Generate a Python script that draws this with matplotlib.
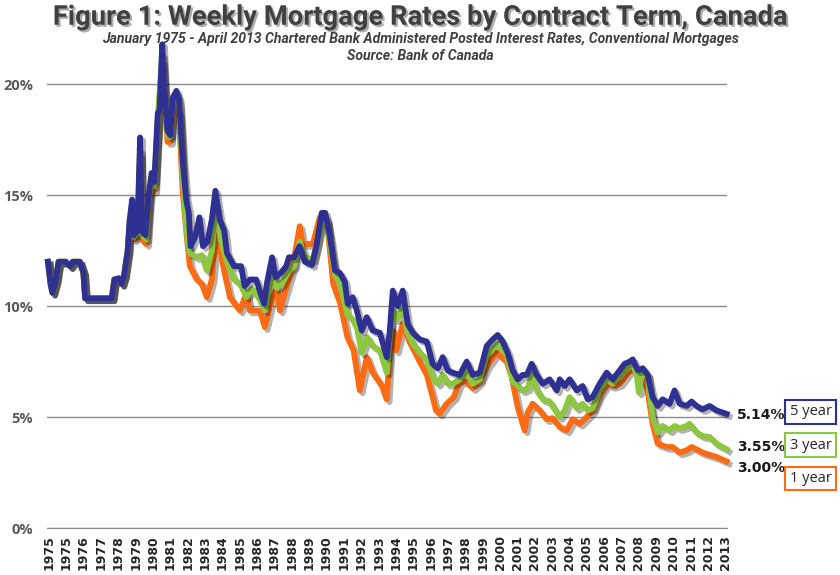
import matplotlib
matplotlib.use('Agg')
import matplotlib.pyplot as plt
import matplotlib.patheffects as pe
import numpy as np

# common part (all terms nearly identical 1975 - mid 1979)
early_dates = [1975.00, 1975.15, 1975.25, 1975.45, 1975.60, 1976.00, 1976.25, 1976.40,
               1976.80, 1977.00, 1977.10, 1978.00, 1978.60, 1978.75, 1979.00, 1979.15,
               1979.30, 1979.50]
early_rates = [12.0, 11.0, 10.6, 11.2, 12.0, 12.0, 11.8, 12.0,
               12.0, 11.5, 10.35, 10.35, 10.35, 11.2, 11.25, 11.0,
               11.4, 12.5]

# 5 year term
dates_5y = [1979.60, 1979.75, 1979.85, 1980.05, 1980.20, 1980.30, 1980.50, 1980.70,
            1980.85, 1981.00, 1981.20, 1981.30, 1981.45, 1981.55, 1981.75, 1981.90,
            1982.05, 1982.25, 1982.40, 1982.60, 1982.80, 1982.95, 1983.05, 1983.30,
            1983.55, 1983.75, 1984.00, 1984.25, 1984.45, 1984.70, 1984.95, 1985.10,
            1985.50, 1985.90, 1986.10, 1986.40, 1986.75, 1986.95, 1987.20, 1987.35,
            1987.65, 1987.85, 1988.15, 1988.45, 1988.60, 1988.90, 1989.20, 1989.50,
            1989.90, 1990.15, 1990.45, 1990.65, 1990.90, 1991.20, 1991.47, 1991.75,
            1991.92, 1992.20, 1992.43, 1992.71, 1992.99, 1993.33, 1993.73, 1994.12,
            1994.29, 1994.46, 1994.74, 1995.02, 1995.30, 1995.59, 1995.98, 1996.38,
            1996.71, 1997.00, 1997.28, 1997.56, 1997.84, 1998.24, 1998.63, 1998.97,
            1999.37, 1999.76, 2000.10, 2000.38, 2000.66, 2000.94, 2001.23, 2001.51,
            2001.79, 2002.02, 2002.30, 2002.58, 2002.92, 2003.31, 2003.71, 2003.88,
            2004.16, 2004.44, 2004.84, 2005.17, 2005.46, 2005.74, 2006.13, 2006.53,
            2006.87, 2007.26, 2007.54, 2007.83, 2008.00, 2008.29, 2008.57, 2008.84,
            2009.12, 2009.41, 2009.69, 2010.08, 2010.36, 2010.65, 2011.04, 2011.32,
            2011.60, 2011.94, 2012.34, 2012.73, 2013.30]
rates_5y = [13.8, 14.8, 13.2, 13.4, 17.6, 13.4, 13.2, 15.1,
            16.0, 15.6, 18.7, 18.8, 21.8, 20.0, 17.9, 17.7,
            19.4, 19.7, 19.3, 16.6, 14.8, 14.2, 12.7, 13.1,
            14.0, 12.7, 12.9, 13.9, 15.2, 13.9, 13.4, 12.4,
            11.8, 11.8, 10.9, 11.2, 11.2, 10.7, 10.1, 11.0,
            12.2, 11.3, 11.5, 11.8, 12.2, 12.2, 12.7, 12.0,
            11.85, 12.7, 14.2, 14.2, 13.2, 11.6, 11.5, 11.1,
            10.1, 10.4, 9.8, 8.9, 9.5, 8.9, 8.8, 7.7,
            8.9, 10.7, 10.0, 10.7, 9.2, 8.8, 8.5, 8.4,
            7.4, 7.2, 7.7, 7.1, 7.0, 6.9, 7.5, 6.9,
            7.0, 8.2, 8.5, 8.7, 8.4, 7.9, 7.1, 6.7,
            6.9, 6.9, 7.4, 6.9, 6.5, 6.7, 6.2, 6.7,
            6.4, 6.7, 6.2, 6.4, 5.8, 5.9, 6.5, 7.0,
            6.7, 7.1, 7.4, 7.5, 7.6, 7.1, 7.2, 6.9,
            5.9, 5.5, 5.8, 5.6, 6.2, 5.6, 5.5, 5.7,
            5.5, 5.35, 5.5, 5.3, 5.14]

# 3 year term
dates_3y = [1979.60, 1979.75, 1979.85, 1980.05, 1980.20, 1980.30, 1980.55, 1980.70,
            1980.85, 1981.00, 1981.20, 1981.45, 1981.55, 1981.75, 1981.90, 1982.05,
            1982.25, 1982.40, 1982.60, 1982.80, 1983.00, 1983.40, 1983.69, 1983.97,
            1984.25, 1984.45, 1984.75, 1985.10, 1985.50, 1985.85, 1986.20, 1986.50,
            1986.95, 1987.24, 1987.50, 1987.70, 1987.90, 1988.20, 1988.60, 1988.90,
            1989.21, 1989.50, 1989.95, 1990.34, 1990.55, 1990.74, 1990.95, 1991.20,
            1991.50, 1991.90, 1992.20, 1992.45, 1992.70, 1993.00, 1993.33, 1993.73,
            1994.12, 1994.30, 1994.48, 1994.65, 1995.02, 1995.30, 1995.60, 1995.98,
            1996.38, 1996.71, 1997.00, 1997.28, 1997.56, 1997.84, 1998.24, 1998.63,
            1998.97, 1999.37, 1999.76, 2000.38, 2000.89, 2001.23, 2001.51, 2001.79,
            2002.07, 2002.30, 2002.58, 2002.92, 2003.31, 2003.71, 2003.88, 2004.16,
            2004.44, 2004.84, 2005.17, 2005.46, 2005.74, 2006.13, 2006.53, 2006.87,
            2007.26, 2007.54, 2007.83, 2008.00, 2008.22, 2008.35, 2008.50, 2008.84,
            2009.12, 2009.41, 2009.69, 2010.08, 2010.36, 2010.65, 2011.04, 2011.20,
            2011.60, 2011.94, 2012.34, 2012.73, 2013.30]
rates_3y = [13.6, 14.5, 13.1, 13.3, 17.0, 13.2, 13.0, 14.9,
            15.8, 15.4, 18.5, 21.3, 19.8, 17.7, 17.6, 19.2,
            19.6, 19.1, 16.0, 13.6, 12.4, 12.2, 12.3, 11.6,
            12.5, 14.6, 13.0, 12.0, 11.2, 11.0, 10.4, 10.8,
            10.3, 9.8, 10.8, 11.6, 10.8, 11.0, 11.6, 11.8,
            12.9, 12.2, 12.1, 13.4, 14.1, 13.9, 12.6, 11.4,
            11.0, 9.6, 9.4, 9.0, 7.9, 8.6, 8.2, 8.0,
            7.0, 8.7, 9.8, 9.4, 9.9, 8.8, 8.3, 7.9,
            7.6, 6.8, 6.5, 6.9, 6.5, 6.5, 6.7, 7.0,
            6.5, 6.7, 7.8, 8.3, 7.8, 6.6, 6.4, 6.2,
            6.3, 6.9, 6.2, 5.8, 5.7, 5.2, 5.0, 5.3,
            5.9, 5.4, 5.6, 5.3, 5.4, 6.2, 6.7, 6.5,
            6.8, 7.1, 7.3, 7.4, 6.9, 6.1, 6.9, 6.9,
            5.0, 4.3, 4.6, 4.4, 4.6, 4.5, 4.6, 4.7,
            4.3, 4.15, 4.1, 3.8, 3.55]

# 1 year term
dates_1y = [1979.60, 1979.75, 1979.85, 1980.05, 1980.20, 1980.30, 1980.55, 1980.70,
            1980.85, 1981.00, 1981.20, 1981.45, 1981.55, 1981.75, 1981.90, 1982.05,
            1982.25, 1982.40, 1982.60, 1982.84, 1983.01, 1983.40, 1983.69, 1983.97,
            1984.25, 1984.53, 1984.81, 1985.27, 1985.83, 1986.22, 1986.39, 1986.96,
            1987.24, 1987.52, 1987.92, 1988.09, 1988.37, 1988.82, 1989.21, 1989.38,
            1989.95, 1990.34, 1990.74, 1990.95, 1991.10, 1991.50, 1991.90, 1992.25,
            1992.60, 1992.99, 1993.33, 1993.85, 1994.12, 1994.30, 1994.48, 1994.65,
            1995.02, 1995.40, 1995.98, 1996.38, 1996.71, 1996.90, 1997.10, 1997.50,
            1997.90, 1998.24, 1998.60, 1998.97, 1999.37, 1999.76, 2000.32, 2000.89,
            2001.17, 2001.51, 2001.90, 2002.07, 2002.35, 2002.75, 2003.14, 2003.48,
            2003.88, 2004.27, 2004.61, 2005.01, 2005.40, 2005.74, 2006.13, 2006.53,
            2006.87, 2007.26, 2007.83, 2008.22, 2008.57, 2008.84, 2009.12, 2009.41,
            2009.92, 2010.25, 2010.65, 2011.04, 2011.32, 2011.60, 2011.94, 2012.34,
            2012.73, 2013.30]
rates_1y = [13.5, 14.3, 13.0, 13.2, 16.8, 13.0, 12.8, 14.6,
            15.6, 15.2, 18.3, 21.0, 19.5, 17.4, 17.4, 18.9,
            19.1, 18.6, 15.2, 13.1, 11.8, 11.2, 11.0, 10.4,
            11.2, 13.9, 12.1, 10.4, 9.8, 10.6, 9.8, 9.8,
            9.05, 10.0, 10.9, 9.8, 10.6, 11.8, 13.6, 12.8,
            12.8, 14.0, 13.8, 12.2, 11.0, 10.1, 8.6, 8.0,
            6.2, 7.7, 7.0, 6.4, 5.8, 8.2, 8.9, 8.0,
            9.2, 8.4, 7.5, 6.9, 5.9, 5.3, 5.15, 5.6,
            5.9, 6.6, 6.6, 6.3, 6.6, 7.3, 7.9, 7.5,
            6.8, 5.45, 4.4, 5.2, 5.6, 5.3, 4.9, 4.95,
            4.55, 4.4, 4.9, 4.7, 5.0, 5.3, 6.0, 6.5,
            6.4, 6.5, 7.1, 7.0, 6.8, 6.2, 4.7, 3.8,
            3.65, 3.65, 3.4, 3.5, 3.65, 3.55, 3.4, 3.3,
            3.2, 3.0]

tick_labels = ['1975', '1975'] + [str(y) for y in range(1976, 2014)]
term_labels = ['5 year', '3 year', '1 year']
last_values = ['5.14%', '3.55%', '3.00%']

colors = {'5 year': '#2e3192', '3 year': '#8dc63f', '1 year': '#ff6a13'}

fig = plt.figure(figsize=(8.4, 5.75), dpi=100)
ax = fig.add_axes([0.056, 0.0817, 0.8095, 0.849])

shadow = [pe.SimpleLineShadow(offset=(2, -2), shadow_color='black', alpha=0.3), pe.Normal()]

series = [
    ('1 year', early_dates + dates_1y, early_rates + rates_1y),
    ('3 year', early_dates + dates_3y, early_rates + rates_3y),
    ('5 year', early_dates + dates_5y, early_rates + rates_5y),
]
for name, d, r in series:
    ax.plot(d, r, color=colors[name], lw=4.2, solid_joinstyle='round',
            path_effects=shadow, clip_on=False, zorder=3)

ax.set_xlim(1974.95, 2013.32)
ax.set_ylim(0, 22)
ax.set_yticks([0, 5, 10, 15, 20])
ax.set_yticklabels(['0%', '5%', '10%', '15%', '20%'], fontsize=10.5,
                   fontweight='bold', color='#595959', family='Open Sans')
ax.yaxis.grid(True, color='#8c8c8c', lw=1)
ax.set_axisbelow(True)
ax.tick_params(axis='y', length=0, pad=10)

ax.set_xticks(np.linspace(1975.05, 2013.25, len(tick_labels)))
ax.set_xticklabels(tick_labels, rotation=90, fontsize=9, fontweight='bold', color='#262626')
ax.tick_params(axis='x', length=0, pad=5)

for s in ['top', 'right', 'left']:
    ax.spines[s].set_visible(False)
ax.spines['bottom'].set_color('#8c8c8c')
ax.set_facecolor('none')

# end-of-series labels and boxed legend
end_y = [0.278, 0.222, 0.186]
box_y = [0.284, 0.226, 0.168]
for name, val, ly, by in zip(term_labels, last_values, end_y, box_y):
    fig.text(0.877, ly, val, fontsize=10, fontweight='bold', color='#1a1a1a', va='center')
    fig.text(0.94, by, name, fontsize=10.5, color='#262626', ha='left', va='center',
             family='Open Sans',
             bbox=dict(boxstyle='square,pad=0.3', fc='white', ec=colors[name], lw=1.5))

txt_shadow = [pe.SimplePatchShadow(offset=(1.5, -1.5), alpha=0.35), pe.Normal()]
fig.text(0.5, 0.970, 'Figure 1: Weekly Mortgage Rates by Contract Term, Canada',
         ha='center', va='center', fontsize=19.7, fontweight='bold', color='#404040',
         family='Roboto', path_effects=txt_shadow)
fig.text(0.5, 0.932, 'January 1975 - April 2013 Chartered Bank Administered Posted Interest Rates, Conventional Mortgages',
         ha='center', va='center', fontsize=10.1, fontweight='bold', style='italic', color='#404040',
         family='Roboto')
fig.text(0.5, 0.902, 'Source: Bank of Canada', ha='center', va='center', fontsize=10.1,
         fontweight='bold', style='italic', color='#404040', family='Roboto')

fig.savefig('out.png', dpi=100, facecolor='white')
plt.close(fig)
